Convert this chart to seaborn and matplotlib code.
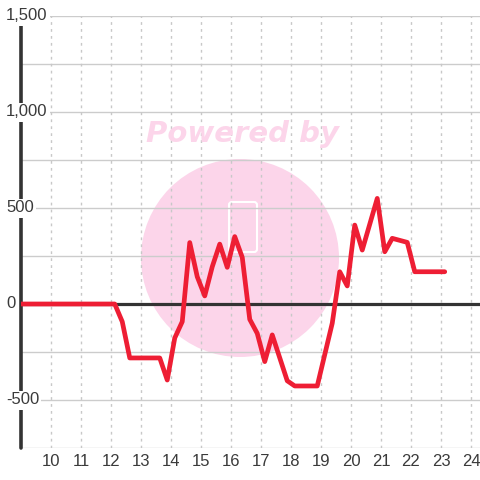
import matplotlib
matplotlib.use('Agg')
from matplotlib import pyplot as plt
from matplotlib.patches import Circle, FancyBboxPatch
from matplotlib.transforms import blended_transform_factory
import pandas as pd
import seaborn as sns

# hours of the day and the value at each
hours = [9.0, 12.125, 12.375, 12.625, 13.625, 13.875, 14.125, 14.375, 14.625,
         14.875, 15.125, 15.375, 15.625, 15.875, 16.125, 16.375, 16.625, 16.875,
         17.125, 17.375, 17.875, 18.125, 18.875, 19.375, 19.625, 19.875, 20.125,
         20.375, 20.875, 21.125, 21.375, 21.875, 22.125, 23.125]
values = [0, 0, -92, -281, -281, -396, -177, -92, 320, 142, 42, 194, 312, 191,
          351, 243, -80, -153, -300, -161, -400, -427, -427, -100, 168, 94, 411,
          281, 550, 272, 342, 321, 168, 168]
x_ticks = list(range(10, 25))
y_labels = [1500, 1000, 500, 0, -500]
y_grid = [-750, -500, -250, 250, 500, 750, 1000, 1250, 1500]

df = pd.DataFrame({'hour': hours, 'value': values})

sns.set_theme(style='white')
plt.rcParams['font.family'] = ['Liberation Sans', 'DejaVu Sans']

fig = plt.figure(figsize=(4.8, 4.8), dpi=100)
ax = fig.add_axes([21 / 480, 32 / 480, 459 / 480, 432 / 480])
ax.set_xlim(9, 24.3)
ax.set_ylim(-750, 1500)
for s in ax.spines.values():
    s.set_visible(False)

# watermark behind the grid
ax.add_patch(Circle((240 / 480, 1 - 258 / 480), 99 / 480, transform=fig.transFigure,
                    facecolor='#fcd5ea', edgecolor='none', zorder=0.1))
ax.add_patch(FancyBboxPatch((229 / 480, 1 - 252 / 480), 28 / 480, 50 / 480,
                            boxstyle='round,pad=0,rounding_size=0.006',
                            transform=fig.transFigure, facecolor='none',
                            edgecolor='white', lw=1.5, zorder=0.2))
fig.text(242 / 480, 1 - 134 / 480, 'Powered by', color='#fcd5ea', fontsize=21,
         fontweight='heavy', fontstyle='italic', ha='center', va='center',
         family=['DejaVu Sans'], zorder=0.2)

for y in y_grid:
    ax.axhline(y, color='#cccccc', lw=1, zorder=0.5)
for x in x_ticks:
    ax.axvline(x, color='#c8c8c8', lw=1, ls=(0, (2, 3)), zorder=0.5)

ax.axhline(0, color='#333333', lw=2.3, zorder=1.5)
ax.axvline(9, ymin=0, ymax=(1458 + 750) / 2250, color='#333333', lw=2.6,
           zorder=1.5, clip_on=False)

sns.lineplot(data=df, x='hour', y='value', color='#ee1e34', lw=3.4,
             estimator=None, sort=False, ax=ax, zorder=3)

ax.set_xticks(x_ticks)
ax.set_xticklabels([str(t) for t in x_ticks], fontsize=12, color='#3a3a3a')
ax.tick_params(axis='x', length=0, pad=4)
ax.set_yticks([])
ax.set_xlabel('')
ax.set_ylabel('')

trans = blended_transform_factory(fig.transFigure, ax.transData)
for v in y_labels:
    lab = f'{v:,}'
    ax.text(6 / 480, v, lab, transform=trans, ha='left', va='center',
            fontsize=12, color='#3a3a3a', zorder=4, clip_on=False,
            bbox=dict(boxstyle='square,pad=0.12', facecolor='white',
                      edgecolor='none'))

fig.savefig('out.png', dpi=100)
